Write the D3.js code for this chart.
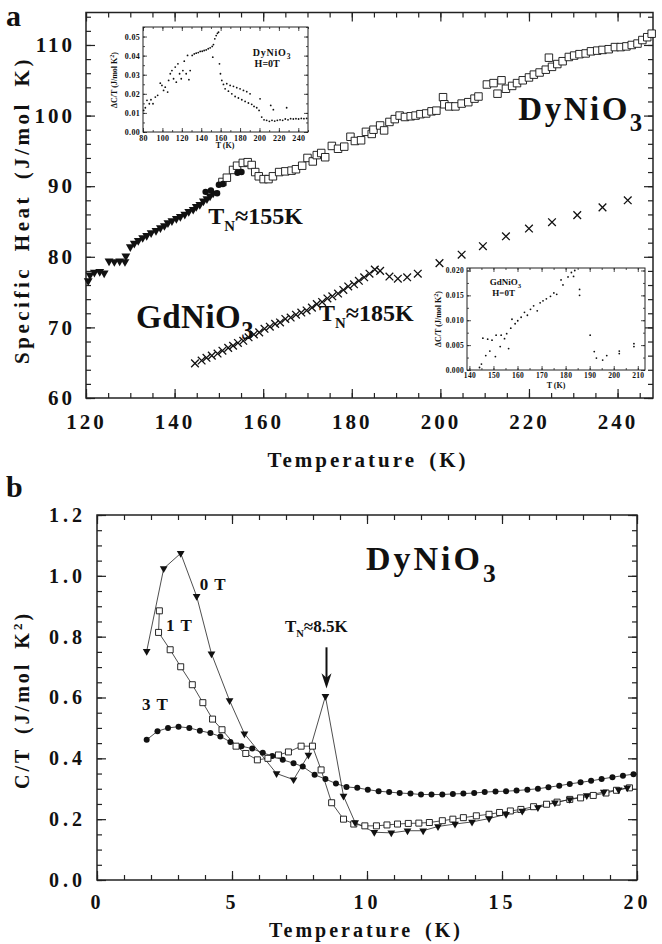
<!DOCTYPE html>
<html>
<head>
<meta charset="utf-8">
<script src="https://cdn.jsdelivr.net/npm/d3@7"></script>
<style>
body { margin: 0; background: #fff; }
text { font-family: "Liberation Serif", "DejaVu Serif", serif; font-weight: bold; fill: #111; }
</style>
</head>
<body>
<svg id="chart" width="662" height="944"></svg>
<script>
// ---- panel a data: specific heat (J/mol K) vs T (K) ----
var dyTriangles = [[120.5,76.6],[120.9,77.4],[121.9,77.8],[123.1,77.9],[124.1,77.7],
    [125.2,79.4],[126.4,79.3],[127.6,79.4],[128.8,79.3],[129.0,80.1],
    [130.0,81.4],[130.9,81.9],[131.8,82.3],[132.8,82.7],[133.7,83.0],[134.7,83.4],[135.8,83.7],
    [136.8,84.1],[137.7,84.4],[138.5,84.8],[139.4,85.1],[140.4,85.4],[141.3,85.7],[142.3,86.0],
    [143.2,86.4],[144.2,86.7],[144.9,87.1],[145.7,87.4],[146.5,87.9],[147.3,88.2],[148.0,88.6],[148.7,89.0]];
var dyCircles = [[147.0,89.2],[148.2,89.4],[149.6,89.0],[150.0,90.2],[150.9,90.3],[154.2,91.9],[155.1,92.0]];
var dySquares = [[150.8,90.6],[151.8,91.2],[153.2,92.3],[154.1,92.9],[155.4,93.3],[156.5,93.4],[157.4,93.0],
    [158.2,92.0],[159.0,91.4],[160.1,91.0],[161.2,91.0],[162.2,91.4],[163.6,92.0],[165.0,92.1],[166.4,92.2],
    [167.4,92.4],[168.8,92.9],[170.0,94.0],[171.2,93.5],[172.1,94.4],[173.1,94.7],[174.0,94.1],[175.5,95.7],
    [176.9,95.3],[178.3,95.6],[179.7,97.0],[180.7,96.4],[182.1,96.5],[183.2,97.7],[184.5,97.4],[184.9,98.0],
    [186.4,98.6],[187.3,97.9],[188.5,99.1],[189.7,99.5],[190.8,100.0],[192.0,99.8],[193.3,99.9],[194.4,100.0],
    [195.5,100.2],[196.8,100.3],[198.0,100.6],[199.1,100.7],[200.6,102.6],[200.9,101.6],[202.0,101.3],
    [203.4,101.3],[204.8,101.7],[206.3,101.9],[207.7,102.4],[208.6,102.7],[210.5,104.4],[212.0,104.6],
    [212.9,103.1],[213.8,105.0],[214.8,103.8],[216.2,104.2],[217.3,104.6],[218.6,105.0],[220.0,105.4],
    [221.1,105.8],[222.4,106.1],[223.8,106.5],[224.5,108.2],[225.2,106.9],[226.4,107.3],[227.6,107.7],
    [229.0,108.3],[230.2,108.5],[231.4,108.7],[232.8,108.8],[234.0,109.1],[235.4,109.2],[236.6,109.3],
    [238.0,109.4],[239.4,109.7],[240.7,109.7],[242.0,109.8],[243.2,110.0],[244.5,110.2],[245.6,110.7],
    [246.7,111.1],[247.7,111.6]];
var gdCrosses = [[144.6,64.9],[146.1,65.3],[147.2,65.7],[148.4,66.0],[149.7,66.3],[150.8,66.7],[152.1,67.1],
    [153.2,67.4],[154.3,67.8],[155.5,68.1],[156.7,68.6],[157.9,69.0],[159.1,69.3],[160.3,69.8],[161.5,70.1],
    [162.7,70.5],[163.8,70.7],[165.0,71.2],[166.2,71.4],[167.4,71.8],[168.6,72.1],[169.8,72.4],[171.0,72.8],
    [172.1,73.3],[173.3,73.6],[174.5,74.1],[175.6,74.4],[176.9,74.8],[178.1,75.3],[179.2,75.8],[180.5,76.1],
    [181.6,76.6],[182.8,77.1],[184.0,77.6],[185.2,78.2],[186.4,78.0],[188.5,77.2],[190.4,76.9],[192.5,77.1],
    [194.9,77.6],[199.8,79.1],[204.8,80.3],[209.6,81.5],[214.8,82.9],[220.0,84.0],[225.2,84.9],[230.9,85.9],
    [236.6,87.0],[242.3,88.0]];
var aXTicks = [120, 140, 160, 180, 200, 220, 240];
var aYTicks = [60, 70, 80, 90, 100, 110];

// ---- inset 1: DyNiO3 dC/T ----
var dyInset = [[80.7,0.0113],[82.4,0.0127],[84.1,0.0166],[86.5,0.0148],[88.2,0.0169],[90.3,0.0148],[92.7,0.0183],
    [95.1,0.0192],[97.8,0.0256],[99.5,0.0244],[101.2,0.0218],[102.9,0.0235],[105.4,0.0209],[106.4,0.027],
    [108.1,0.0305],[109.8,0.0322],[111.5,0.0279],[113.2,0.034],[114.3,0.0261],[116.0,0.0357],[117.7,0.0305],
    [119.4,0.0279],[121.1,0.0322],[122.5,0.0371],[124.5,0.0305],[125.9,0.0401],[127.3,0.0274],[128.6,0.0322],
    [130.7,0.0401],[132.8,0.0409],[134.8,0.0413],[136.9,0.0416],[138.9,0.0422],[141.0,0.0423],[143.0,0.0427],
    [145.1,0.043],[147.2,0.0436],[149.2,0.0441],[151.3,0.0448],[152.6,0.0458],[154.0,0.0488],[155.4,0.0505],
    [156.7,0.0517],[157.8,0.0523],[151.9,0.0392],[158.8,0.0357],[159.8,0.0305],[161.2,0.027],[162.9,0.0249],
    [166.3,0.0253],[169.8,0.0244],[173.2,0.0239],[176.6,0.0232],[180.0,0.0226],[183.5,0.0218],[186.9,0.0211],
    [190.3,0.02],[200.6,0.0174],[164.6,0.0226],[168.0,0.0214],[171.5,0.02],[174.9,0.0186],[178.3,0.0178],
    [181.8,0.0169],[185.2,0.016],[188.6,0.0152],[192.0,0.0145],[194.4,0.0134],[197.2,0.0127],[199.6,0.0113],
    [202.3,0.0078],[204.7,0.0064],[207.4,0.0061],[210.2,0.0056],[212.9,0.0061],[215.7,0.0057],[218.4,0.0061],
    [221.2,0.0064],[223.9,0.0061],[226.6,0.0068],[229.4,0.0064],[232.1,0.007],[234.9,0.0068],[237.6,0.007],
    [240.3,0.0068],[243.1,0.0071],[245.8,0.007],[248.6,0.0071],[211.6,0.0139],[214.3,0.0117],[228.0,0.0127]];
var in1XTicks = [80, 100, 120, 140, 160, 180, 200, 220, 240];
var in1YTicks = [0, 0.01, 0.02, 0.03, 0.04, 0.05];

// ---- inset 2: GdNiO3 dC/T ----
var gdInset = [[144.2,0.0005],[145.0,0.0012],[145.6,0.0064],[147.6,0.0062],[149.4,0.006],[146.8,0.0029],
    [148.5,0.0038],[150.8,0.0027],[151.1,0.007],[153.2,0.007],[152.8,0.0047],[154.6,0.0063],[155.5,0.0073],
    [156.3,0.0043],[157.2,0.0084],[157.7,0.0102],[159.0,0.0093],[160.1,0.0099],[161.5,0.0106],[162.9,0.0116],
    [164.1,0.011],[165.4,0.0122],[166.7,0.0129],[168.2,0.0119],[169.4,0.0135],[170.6,0.0139],[172.0,0.0143],
    [173.7,0.0148],[175.1,0.0155],[176.3,0.0152],[178.1,0.0181],[178.9,0.0171],[181.0,0.0187],[182.4,0.0196],
    [183.8,0.02],[183.3,0.0188],[185.8,0.0162],[185.8,0.015],[190.2,0.007],[191.9,0.0037],[192.8,0.0024],
    [195.4,0.002],[197.1,0.0029],[202.3,0.0038],[202.3,0.0033],[208.4,0.0053],[208.4,0.0047]];
var in2XTicks = [140, 150, 160, 170, 180, 190, 200, 210];
var in2YTicks = [0, 0.005, 0.010, 0.015, 0.020];

// ---- panel b data: C/T (J/mol K^2) vs T (K) ----
var field0T = [[1.84,0.752],[2.47,1.024],[3.10,1.074],[3.69,0.933],[4.24,0.744],[4.91,0.590],[5.46,0.481],
    [6.65,0.350],[7.28,0.330],[7.83,0.411],[8.46,0.604],[9.13,0.276],[9.56,0.189],[10.27,0.157],[10.90,0.155],
    [11.50,0.162],[12.08,0.162],[12.63,0.176],[13.26,0.184],[13.89,0.191],[14.52,0.202],[15.15,0.216],
    [15.75,0.227],[16.33,0.238],[16.96,0.254],[17.51,0.265],[18.14,0.278],[18.77,0.289],[19.32,0.297],[19.64,0.303]];
var field1T = [[2.31,0.885],[2.28,0.814],[2.71,0.757],[3.10,0.701],[3.53,0.642],[3.92,0.583],[4.28,0.529],
    [4.63,0.494],[5.15,0.440],[5.51,0.416],[5.94,0.395],[6.33,0.400],[6.72,0.411],[7.09,0.421],[7.56,0.440],
    [7.98,0.440],[8.30,0.362],[8.69,0.254],[9.13,0.200],[9.51,0.184],[9.92,0.178],[10.35,0.178],[10.74,0.181],
    [11.13,0.184],[11.53,0.186],[11.92,0.187],[12.31,0.189],[12.79,0.195],[13.18,0.200],[13.57,0.205],
    [14.05,0.211],[14.52,0.216],[14.91,0.222],[15.31,0.227],[15.70,0.232],[16.17,0.241],[16.65,0.249],
    [17.04,0.256],[17.51,0.265],[17.91,0.270],[18.38,0.278],[18.85,0.286],[19.24,0.295],[19.72,0.303]];
var field3T = [[1.84,0.461],[2.24,0.489],[2.63,0.500],[3.02,0.504],[3.42,0.500],[3.81,0.491],[4.20,0.483],
    [4.57,0.472],[4.94,0.454],[5.35,0.440],[5.75,0.432],[6.14,0.418],[6.49,0.408],[6.88,0.395],[7.28,0.384],
    [7.62,0.373],[8.06,0.346],[8.46,0.332],[8.85,0.317],[9.24,0.306],[9.64,0.303],[10.03,0.297],[10.43,0.292],
    [10.82,0.289],[11.21,0.286],[11.61,0.284],[12.00,0.281],[12.39,0.281],[12.79,0.281],[13.18,0.283],
    [13.57,0.284],[13.97,0.286],[14.36,0.289],[14.76,0.291],[15.15,0.292],[15.54,0.294],[15.94,0.297],
    [16.33,0.300],[16.72,0.305],[17.12,0.310],[17.51,0.316],[17.91,0.321],[18.30,0.326],[18.69,0.332],
    [19.09,0.338],[19.48,0.343],[19.87,0.348]];
var bXTicks = [0, 5, 10, 15, 20];
var bYTicks = [0, 0.2, 0.4, 0.6, 0.8, 1.0, 1.2];

var svg = d3.select('#chart');
svg.append('rect').attr('width', 662).attr('height', 944).attr('fill', '#fff');

// draws frame with inward ticks on all four sides
function drawFrame(g, x, y, o) {
    var x0 = x.range()[0], x1 = x.range()[1];
    var y0 = y.range()[0], y1 = y.range()[1];
    function sideAxis(axis, tr, vals, size, fmt, pad) {
        var a = g.append('g').attr('transform', tr)
            .call(axis.tickValues(vals).tickSizeInner(size).tickSizeOuter(0).tickPadding(pad).tickFormat(fmt));
        a.select('.domain').remove();
        a.selectAll('line').attr('stroke', '#222').attr('stroke-width', o.tw);
        a.selectAll('text').style('font-size', o.font + 'px').style('letter-spacing', o.ls + 'px')
            .style('font-family', '"Liberation Serif", serif').style('font-weight', 'bold').attr('fill', '#111');
        return a;
    }
    var none = function() { return ''; };
    sideAxis(d3.axisBottom(x), 'translate(0,' + y0 + ')', o.xMinor, -o.minor, none, 0);
    sideAxis(d3.axisBottom(x), 'translate(0,' + y0 + ')', o.xMajor, -o.major, o.xFmt, o.xPad);
    sideAxis(d3.axisTop(x), 'translate(0,' + y1 + ')', o.xMinor, -o.minor, none, 0);
    sideAxis(d3.axisTop(x), 'translate(0,' + y1 + ')', o.xMajor, -o.major, none, 0);
    sideAxis(d3.axisLeft(y), 'translate(' + x0 + ',0)', o.yMinor, -o.minor, none, 0);
    sideAxis(d3.axisLeft(y), 'translate(' + x0 + ',0)', o.yMajor, -o.major, o.yFmt, o.yPad);
    sideAxis(d3.axisRight(y), 'translate(' + x1 + ',0)', o.yMinor, -o.minor, none, 0);
    sideAxis(d3.axisRight(y), 'translate(' + x1 + ',0)', o.yMajor, -o.major, none, 0);
    g.append('rect').attr('x', x0).attr('y', y1).attr('width', x1 - x0).attr('height', y0 - y1)
        .attr('fill', 'none').attr('stroke', '#222').attr('stroke-width', o.fw);
}

function chemText(g, x, y, size, base, sub, ls) {
    var t = g.append('text').attr('x', x).attr('y', y).style('font-size', size + 'px')
        .style('letter-spacing', (ls || 0) + 'px');
    t.append('tspan').text(base);
    t.append('tspan').attr('dy', size * 0.34).style('font-size', (size * 0.75) + 'px').text(sub);
    return t;
}

function tnText(g, x, y, size, rest) {
    var t = g.append('text').attr('x', x).attr('y', y).style('font-size', size + 'px');
    t.append('tspan').text('T');
    t.append('tspan').attr('dy', size * 0.3).style('font-size', (size * 0.62) + 'px').text('N');
    t.append('tspan').attr('dy', -size * 0.3).text(rest);
    return t;
}

var triDown = d3.symbol().type(d3.symbolTriangle);
var timesType = d3.symbolTimes || d3.symbolX || d3.symbolCross;

// ================= PANEL A =================
var gA = svg.append('g');
var xA = d3.scaleLinear().domain([120, 248]).range([86, 653]);
var yA = d3.scaleLinear().domain([60, 114.6]).range([398, 12.5]);

drawFrame(gA, xA, yA, {
    xMajor: aXTicks, xMinor: d3.range(120, 249, 5), yMajor: aYTicks, yMinor: d3.range(60, 115, 2),
    major: 9, minor: 5, tw: 1.2, fw: 1.5, xPad: 16, yPad: 11, font: 21, ls: 3,
    xFmt: d3.format('d'), yFmt: d3.format('d')
});

gA.selectAll('.gd').data(gdCrosses).enter().append('path')
    .attr('d', d3.symbol().type(timesType).size(40))
    .attr('transform', function(d) { return 'translate(' + [xA(d[0]), yA(d[1])] + ')'; })
    .attr('fill', 'none').attr('stroke', '#111').attr('stroke-width', 1.3);

gA.selectAll('.dysq').data(dySquares).enter().append('path')
    .attr('d', d3.symbol().type(d3.symbolSquare).size(56))
    .attr('transform', function(d) { return 'translate(' + [xA(d[0]), yA(d[1])] + ')'; })
    .attr('fill', '#fff').attr('stroke', '#111').attr('stroke-width', 0.9);

gA.selectAll('.dytri').data(dyTriangles).enter().append('path')
    .attr('d', triDown.size(34))
    .attr('transform', function(d) { return 'translate(' + [xA(d[0]), yA(d[1])] + ') rotate(180)'; })
    .attr('fill', '#111');

gA.selectAll('.dyci').data(dyCircles).enter().append('circle')
    .attr('cx', function(d) { return xA(d[0]); })
    .attr('cy', function(d) { return yA(d[1]); })
    .attr('r', 3.2).attr('fill', '#111');

chemText(gA, xA(217.6), yA(99.4), 33, 'DyNiO', '3', 2.5);
chemText(gA, xA(131.3), yA(69.9), 33, 'GdNiO', '3', 0.5);
tnText(gA, xA(147.6), yA(84.7), 24, '\u2248155K');
tnText(gA, xA(172.6), yA(70.9), 24, '\u2248185K');

gA.append('text').attr('x', 368).attr('y', 467).attr('text-anchor', 'middle')
    .style('font-size', '21px').style('letter-spacing', '3px').style('word-spacing', '4px').text('Temperature (K)');
gA.append('text').attr('transform', 'translate(29,210) rotate(-90)').attr('text-anchor', 'middle')
    .style('font-size', '21px').style('letter-spacing', '3.5px').style('word-spacing', '6px').text('Specific Heat (J/mol K)');
gA.append('text').attr('x', 6).attr('y', 26).style('font-size', '30px').text('a');

// ---- inset 1 ----
var gI1 = gA.append('g');
var xI1 = d3.scaleLinear().domain([80, 250]).range([143, 308]);
var yI1 = d3.scaleLinear().domain([0, 0.055]).range([132, 27]);
gI1.append('rect').attr('x', 143).attr('y', 27).attr('width', 165).attr('height', 105).attr('fill', '#fff');
drawFrame(gI1, xI1, yI1, {
    xMajor: in1XTicks, xMinor: d3.range(80, 251, 10), yMajor: in1YTicks, yMinor: d3.range(0, 0.0551, 0.005),
    major: 4, minor: 2, tw: 0.8, fw: 1, xPad: 3, yPad: 3, font: 8, ls: 0.3,
    xFmt: d3.format('d'), yFmt: d3.format('.2f')
});
gI1.selectAll('.d1').data(dyInset).enter().append('circle')
    .attr('cx', function(d) { return xI1(d[0]); })
    .attr('cy', function(d) { return yI1(d[1]); })
    .attr('r', 0.9).attr('fill', '#111');
chemText(gI1, xI1(193), yI1(0.0398), 10, 'DyNiO', '3', 0.8);
gI1.append('text').attr('x', xI1(195)).attr('y', yI1(0.034)).style('font-size', '10px').text('H=0T');
gI1.append('text').attr('x', 225).attr('y', 148).attr('text-anchor', 'middle').style('font-size', '8px').text('T (K)');
var l1 = gI1.append('text').attr('transform', 'translate(117,80) rotate(-90)').attr('text-anchor', 'middle')
    .style('font-size', '8px');
l1.append('tspan').text('\u0394C/T (J/mol K');
l1.append('tspan').attr('dy', -3).style('font-size', '6px').text('2');
l1.append('tspan').attr('dy', 3).text(')');

// ---- inset 2 ----
var gI2 = gA.append('g');
var xI2 = d3.scaleLinear().domain([139, 213]).range([467, 645]);
var yI2 = d3.scaleLinear().domain([0, 0.0205]).range([370, 268]);
gI2.append('rect').attr('x', 467).attr('y', 268).attr('width', 178).attr('height', 102).attr('fill', '#fff');
drawFrame(gI2, xI2, yI2, {
    xMajor: in2XTicks, xMinor: d3.range(140, 213, 5), yMajor: in2YTicks, yMinor: d3.range(0, 0.0206, 0.0025),
    major: 4, minor: 2, tw: 0.8, fw: 1, xPad: 3, yPad: 3, font: 7.5, ls: 0.3,
    xFmt: d3.format('d'), yFmt: d3.format('.3f')
});
gI2.selectAll('.d2').data(gdInset).enter().append('circle')
    .attr('cx', function(d) { return xI2(d[0]); })
    .attr('cy', function(d) { return yI2(d[1]); })
    .attr('r', 0.9).attr('fill', '#111');
chemText(gI2, xI2(148.5), yI2(0.0171), 9, 'GdNiO', '3', 0);
gI2.append('text').attr('x', xI2(149.5)).attr('y', yI2(0.0149)).style('font-size', '9px').text('H=0T');
gI2.append('text').attr('x', 556).attr('y', 388).attr('text-anchor', 'middle').style('font-size', '8px').text('T (K)');
var l2 = gI2.append('text').attr('transform', 'translate(441,319) rotate(-90)').attr('text-anchor', 'middle')
    .style('font-size', '8px');
l2.append('tspan').text('\u0394C/T (J/mol K');
l2.append('tspan').attr('dy', -3).style('font-size', '6px').text('2');
l2.append('tspan').attr('dy', 3).text(')');

// ================= PANEL B =================
var gB = svg.append('g');
var xB = d3.scaleLinear().domain([0, 20]).range([97, 637]);
var yB = d3.scaleLinear().domain([0, 1.2]).range([880, 515]);

drawFrame(gB, xB, yB, {
    xMajor: bXTicks, xMinor: d3.range(0, 20.01, 1), yMajor: bYTicks, yMinor: d3.range(0, 1.201, 0.05),
    major: 9, minor: 5, tw: 1.2, fw: 1.5, xPad: 15, yPad: 11, font: 20, ls: 4,
    xFmt: d3.format('d'), yFmt: d3.format('.1f')
});

var lineB = d3.line().x(function(d) { return xB(d[0]); }).y(function(d) { return yB(d[1]); });
[field3T, field1T, field0T].forEach(function(s) {
    gB.append('path').datum(s).attr('d', lineB).attr('fill', 'none').attr('stroke', '#222').attr('stroke-width', 0.8);
});

gB.selectAll('.c3').data(field3T).enter().append('circle')
    .attr('cx', function(d) { return xB(d[0]); })
    .attr('cy', function(d) { return yB(d[1]); })
    .attr('r', 3).attr('fill', '#111');
gB.selectAll('.s1').data(field1T).enter().append('path')
    .attr('d', d3.symbol().type(d3.symbolSquare).size(36))
    .attr('transform', function(d) { return 'translate(' + [xB(d[0]), yB(d[1])] + ')'; })
    .attr('fill', '#fff').attr('stroke', '#111').attr('stroke-width', 0.9);
gB.selectAll('.t0').data(field0T).enter().append('path')
    .attr('d', d3.symbol().type(d3.symbolTriangle).size(26))
    .attr('transform', function(d) { return 'translate(' + [xB(d[0]), yB(d[1])] + ') rotate(180)'; })
    .attr('fill', '#111');

// arrow marking T_N
var ax = xB(8.5);
gB.append('line').attr('x1', ax).attr('x2', ax).attr('y1', yB(0.765)).attr('y2', yB(0.66))
    .attr('stroke', '#111').attr('stroke-width', 2);
gB.append('path').attr('d', 'M' + (ax - 5) + ',' + yB(0.68) + 'L' + ax + ',' + yB(0.63) + 'L' + (ax + 5) + ',' + yB(0.68) + 'L' + ax + ',' + yB(0.665) + 'Z')
    .attr('fill', '#111');

chemText(gB, xB(9.96), yB(1.019), 34, 'DyNiO', '3', 3);
tnText(gB, xB(6.96), yB(0.815), 17, '\u22488.5K');
gB.append('text').attr('x', xB(3.81)).attr('y', yB(0.953)).style('font-size', '17px').style('letter-spacing', '1px').text('0 T');
gB.append('text').attr('x', xB(2.56)).attr('y', yB(0.818)).style('font-size', '17px').style('letter-spacing', '1px').text('1 T');
gB.append('text').attr('x', xB(1.67)).attr('y', yB(0.559)).style('font-size', '17px').style('letter-spacing', '1px').text('3 T');

gB.append('text').attr('x', 366).attr('y', 937).attr('text-anchor', 'middle')
    .style('font-size', '20px').style('letter-spacing', '3px').style('word-spacing', '4px').text('Temperature (K)');
var lb = gB.append('text').attr('transform', 'translate(29,700) rotate(-90)').attr('text-anchor', 'middle')
    .style('font-size', '20px').style('letter-spacing', '3px').style('word-spacing', '5px');
lb.append('tspan').text('C/T (J/mol K');
lb.append('tspan').attr('dy', -7).style('font-size', '13px').text('2');
lb.append('tspan').attr('dy', 7).text(')');
gB.append('text').attr('x', 6).attr('y', 497).style('font-size', '30px').text('b');
</script>
</body>
</html>
